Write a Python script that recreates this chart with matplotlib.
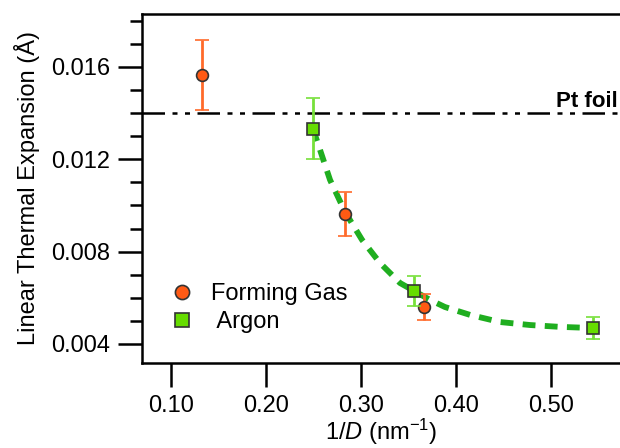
import numpy as np
import matplotlib.pyplot as plt
from matplotlib.ticker import MultipleLocator, FormatStrFormatter

plt.rcParams['font.family'] = ['Liberation Sans', 'DejaVu Sans']
plt.rcParams['mathtext.fontset'] = 'custom'
plt.rcParams['mathtext.rm'] = 'Liberation Sans'
plt.rcParams['mathtext.it'] = 'Liberation Sans:italic'

# Forming gas points
fg_x = [0.133, 0.283, 0.366]
fg_y = [0.01565, 0.00962, 0.0056]
fg_err = [0.00152, 0.00095, 0.00057]

# Argon points
ar_x = [0.2495, 0.356, 0.544]
ar_y = [0.01332, 0.0063, 0.00469]
ar_err = [0.00132, 0.00064, 0.00048]

# fitted curve
fit_x = [0.2495, 0.2674, 0.2832, 0.3011, 0.320, 0.3411, 0.3726, 0.3884,
         0.4147, 0.4463, 0.4779, 0.5095, 0.544]
fit_y = [0.01332, 0.01111, 0.00972, 0.00851, 0.00751, 0.00664, 0.00591,
         0.0056, 0.00526, 0.00495, 0.00482, 0.00474, 0.00469]

pt_foil = 0.0140

fig = plt.figure(figsize=(6.2, 4.48), dpi=100)
ax = fig.add_axes([0.229, 0.19, 0.771, 0.779])

ax.axhline(pt_foil, color="black", lw=1.8, dashes=[9, 3, 2, 3, 2, 3], zorder=1)
ax.text(0.5705, pt_foil + 0.00005, "Pt foil", fontsize=16, fontweight="bold",
        ha="right", va="bottom")

ax.plot(fit_x, fit_y, color="#1fae1f", lw=4.2, dashes=[2.2, 1.6], zorder=2)

ax.errorbar(fg_x, fg_y, yerr=fg_err, fmt="o", color="#ff5a14", ms=8.5,
            mec="#333333", mew=1.2, ecolor="#ff6a2a", elinewidth=2,
            capsize=5, capthick=2, label="Forming Gas", zorder=3)
ax.errorbar(ar_x, ar_y, yerr=ar_err, fmt="s", color="#66dd00", ms=8.5,
            mec="#333333", mew=1.2, ecolor="#77e03a", elinewidth=2,
            capsize=5, capthick=2, label=" Argon", zorder=4)

ax.set_xlim(0.0695, 0.5726)
ax.set_ylim(0.00318, 0.0183)

ax.xaxis.set_major_locator(MultipleLocator(0.1))
ax.xaxis.set_major_formatter(FormatStrFormatter("%.2f"))
ax.yaxis.set_major_locator(MultipleLocator(0.004))
ax.yaxis.set_minor_locator(MultipleLocator(0.001))
ax.yaxis.set_major_formatter(FormatStrFormatter("%.3f"))

for s in ["left", "top", "bottom"]:
    ax.spines[s].set_linewidth(1.8)
ax.spines["right"].set_visible(False)
ax.tick_params(axis="both", which="major", direction="out", length=17,
               width=1.8, labelsize=17, pad=6)
ax.tick_params(axis="y", which="minor", direction="out", length=9, width=1.8)

ax.set_xlabel(r"1/$\it{D}$ (nm$^{-1}$)", fontsize=17, labelpad=0)
ax.set_ylabel("Linear Thermal Expansion (Å)", fontsize=17, labelpad=8)

h, l = ax.get_legend_handles_labels()
h = [x[0] for x in h]
ax.legend(h, l, loc="upper left", bbox_to_anchor=(0.015, 0.29), frameon=False,
          fontsize=17, handletextpad=0.7, labelspacing=0.25, handlelength=1.0,
          markerscale=1.2)

plt.savefig("out.png", dpi=100)
